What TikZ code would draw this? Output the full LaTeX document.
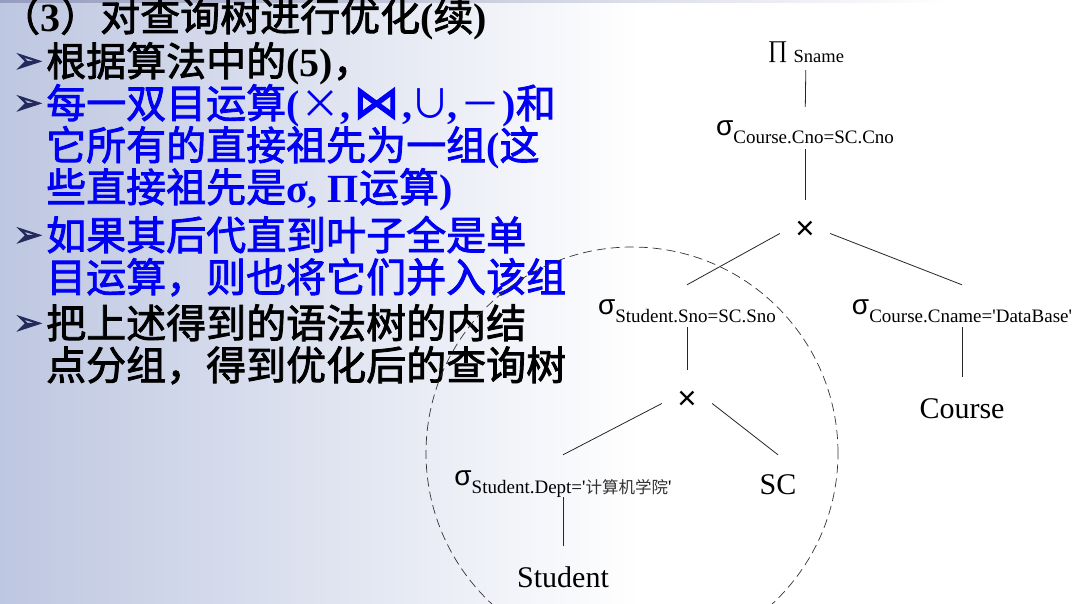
\documentclass[tikz,border=0pt]{standalone}
\usepackage{fontspec}
\setmainfont{Liberation Serif}
\newfontfamily\cjk{Noto Sans CJK SC}
\newfontfamily\cjkmid[FakeBold=2]{Noto Sans CJK SC}
\newfontfamily\tnr{Liberation Serif}
\newfontfamily\arialike{Liberation Sans}
\newfontfamily\dvsheavy[FakeBold=2.5]{DejaVu Sans}

\definecolor{txtblue}{RGB}{0,0,245}
\definecolor{bulletnavy}{RGB}{35,42,92}
\definecolor{bgleft}{RGB}{190,199,225}
\definecolor{topband}{RGB}{150,156,190}

% slide text: heavy CJK at 40pt, Latin pieces in bold Times-like serif
\newcommand\zh{\cjkmid\fontsize{40}{40}\selectfont}
\newcommand\lat[1]{{\tnr\bfseries #1}}
\newcommand\thinsym[1]{{\cjk #1}}
\newcommand\jointext{{\dvsheavy\fontsize{46}{46}\selectfont ⋈}}
% relational-algebra labels: operator with lowered subscript
\newcommand\selop[1]{{\arialike\fontsize{28}{28}\selectfont σ}\raisebox{-8pt}{#1}}
\newcommand\zhsub[1]{{\cjk\fontsize{16.5}{16.5}\selectfont\color{black!80}#1}}

\begin{document}
\begin{tikzpicture}[x=1pt,y=-1pt,
  txt/.style={anchor=base west, inner sep=0pt, font=\zh},
  bul/.style={anchor=base west, inner sep=0pt, text=bulletnavy,
              font=\dvsheavy\fontsize{34}{34}\selectfont},
  lbl/.style={anchor=base, inner sep=0pt, font=\tnr\fontsize{19}{19}\selectfont},
  leaf/.style={anchor=base, inner sep=0pt, text height=41pt, text depth=0pt,
               font=\tnr\fontsize{30}{30}\selectfont},
  prod/.style={anchor=base, inner sep=0pt, minimum width=50pt,
               text height=39pt, text depth=28pt,
               font=\arialike\fontsize{33}{33}\selectfont},
  treeline/.style={line width=0.8pt, black!85},
  group/.style={line width=0.7pt, black!80, dash pattern=on 9pt off 5pt}]

% page and background
\useasboundingbox (0,0) rectangle (1076,603);
\fill[white] (0,0) rectangle (1076,603);
\shade[left color=bgleft, right color=white] (0,0) rectangle (640,603);
\shade[left color=topband, right color=white] (0,0) rectangle (950,2);

% bullet text
\node[txt] (t1) at (0,31) {（\lat{3}）对查询树进行优化\lat{(}续\lat{)}};
\node[bul] (b2) at (14,72) {➢};
\node[txt] (t2) at (46,76) {根据算法中的\lat{(5)}，};
\node[bul] (b3) at (14,114) {➢};
\node[txt, text=txtblue] (t3) at (46,118) {每一双目运算\lat{(}\makebox[41pt]{\thinsym{×}}\lat{,}\makebox[52pt]{\jointext}\lat{,}\makebox[35pt]{\thinsym{∪}}\lat{,}\makebox[45pt]{\thinsym{－}}\lat{)}和};
\node[txt, text=txtblue] (t4) at (46,160) {它所有的直接祖先为一组\lat{(}这};
\node[txt, text=txtblue] (t5) at (46,202) {些直接祖先是\lat{σ, Π}运算\lat{)}};
\node[bul] (b6) at (14,246) {➢};
\node[txt, text=txtblue] (t6) at (46,250) {如果其后代直到叶子全是单};
\node[txt, text=txtblue] (t7) at (46,292) {目运算，则也将它们并入该组};
\node[bul] (b8) at (14,334) {➢};
\node[txt] (t8) at (46,338) {把上述得到的语法树的内结};
\node[txt] (t9) at (46,380) {点分组，得到优化后的查询树};

% query tree
\node[lbl, text depth=13pt] (proj) at (806,57)
  {{\fontsize{24}{24}\selectfont ∏}\hspace{6pt}\raisebox{-5pt}{\fontsize{18.5}{18.5}\selectfont Sname}};
\node[lbl, text height=28pt, text depth=14pt] (selcno) at (805,135)
  {\selop{Course.Cno=SC.Cno}};
\node[prod] (x1) at (805,239) {×};
\node[lbl, text height=29pt, text depth=13pt] (selsno) at (687,314)
  {\selop{Student.Sno=SC.Sno}};
\node[lbl, text height=29pt, text depth=13pt] (selcname) at (962,314)
  {\selop{Course.Cname='DataBase'}};
\node[leaf] (course) at (962,418) {Course};
\node[prod] (x2) at (687,409) {×};
\node[lbl, text height=30pt, text depth=12pt] (seldept) at (563,485)
  {\selop{Student.Dept='\zhsub{计算机学院}'}};
\node[leaf, text height=39pt] (sc) at (778,494) {SC};
\node[leaf] (student) at (563,587) {Student};

\draw[treeline] (proj) -- (selcno);
\draw[treeline] (selcno) -- (x1);
\draw[treeline] (x1.west) -- (selsno.north);
\draw[treeline] (x1.east) -- (selcname.north);
\draw[treeline] (selcname) -- (course);
\draw[treeline] (selsno) -- (x2);
\draw[treeline] (x2.west) -- (seldept.north);
\draw[treeline] (x2.east) -- (sc.north);
\draw[treeline] (seldept) -- (student);

% grouped subtree
\draw[group] (632,453) circle [radius=206pt];
\end{tikzpicture}
\end{document}
